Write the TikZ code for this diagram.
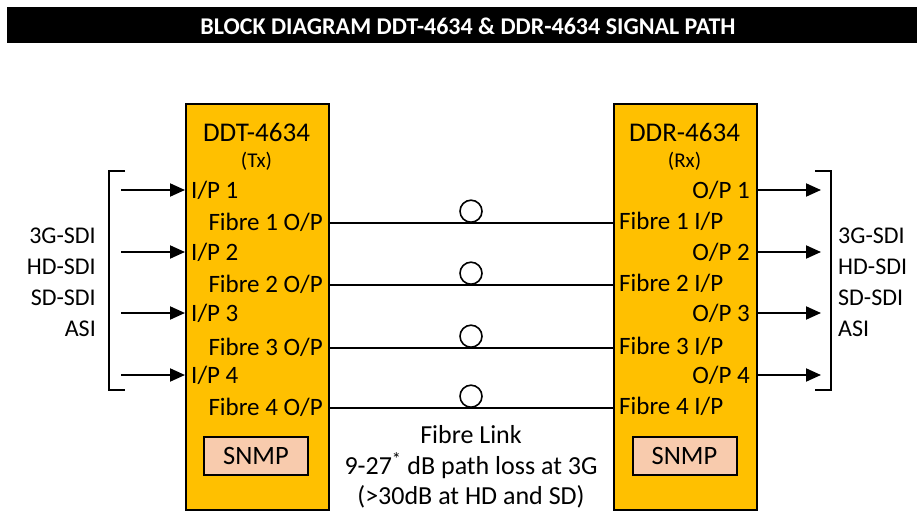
\documentclass[tikz,border=0pt]{standalone}
\usepackage{fontspec}
\setmainfont{Carlito}
\usepackage{tikz}
\usetikzlibrary{arrows.meta, positioning}
\definecolor{boxgold}{HTML}{FFC000}
\definecolor{snmppeach}{HTML}{F8CBAD}

\begin{document}
\begin{tikzpicture}[x=1pt, y=-1pt,
		>={Triangle[length=15pt,width=13pt]},   %Pfeilspitzen
		unit/.style={draw=black, line width=2pt, fill=boxgold, minimum width=143pt, minimum height=406pt, anchor=north west, inner sep=0pt},
		snmpbox/.style={draw=black, line width=2pt, fill=snmppeach, minimum width=104pt, minimum height=38pt, inner sep=0pt, font=\fontsize{26.5}{30}\selectfont},
		port/.style={inner sep=0pt, font=\fontsize{25}{28}\selectfont},
		sig/.style={inner sep=0pt, font=\fontsize{24}{27}\selectfont},
		loopc/.style={draw=black, line width=1.6pt, circle, minimum size=22pt, inner sep=0pt},
		fibre/.style={line width=2pt},
		font=\fontsize{27}{30}\selectfont]
		\useasboundingbox (0,0) rectangle (917,513);
		% Titelzeile
		\fill[black] (7,7) rectangle (917,43);
		\node[text=white, font=\fontsize{24}{26}\selectfont\bfseries] (title) at (468,26) {BLOCK DIAGRAM DDT-4634 \& DDR-4634 SIGNAL PATH};
		% Geraete
		\node[unit] (ddt) at (185,103) {};
		\node[unit] (ddr) at (613,103) {};
		\node (ddtname) at (256.5,132) {DDT-4634};
		\node[font=\fontsize{21}{24}\selectfont] (ddttx) at (256.5,161) {(Tx)};
		\node (ddrname) at (684.5,132) {DDR-4634};
		\node[font=\fontsize{21}{24}\selectfont] (ddrrx) at (684.5,161) {(Rx)};
		\node[snmpbox] (snmpt) at (256,456) {SNMP};
		\node[snmpbox] (snmpr) at (684.5,456) {SNMP};
		% Ports und Fasern
		\foreach \i/\yin/\yf in {1/190/223, 2/252/285, 3/313/348, 4/375/408} {
			\node[port, anchor=west] (ip\i) at (191,\yin) {I/P \i};
			\node[port, anchor=east] (fo\i) at (323,\yf-1) {Fibre \i\ O/P};
			\node[port, anchor=east] (op\i) at (750,\yin) {O/P \i};
			\node[port, anchor=west] (fi\i) at (619,\yf-2) {Fibre \i\ I/P};
			\coordinate (src\i) at (121,\yin);
			\coordinate (dst\i) at (821,\yin);
			\coordinate (mid\i) at (471,\yf);
			\draw[->, line width=2pt] (src\i) -- (src\i -| ddt.west);
			\draw[->, line width=2pt] (op\i -| ddr.east) -- (dst\i);
			\draw[fibre] (mid\i -| ddt.east) -- (mid\i -| ddr.west);
			\node[loopc, above=0pt of mid\i] (loop\i) {};
		}
		% Klammern
		\draw[line width=2pt] (125,171) -- (109,171) -- (109,390) -- (125,390);
		\draw[line width=2pt] (815,171) -- (831,171) -- (831,390) -- (815,390);
		% Signalarten
		\foreach \s/\y in {3G-SDI/236, HD-SDI/267, SD-SDI/298, ASI/329} {
			\node[sig, anchor=east] at (96,\y) {\s};
			\node[sig, anchor=west] at (838,\y) {\s};
		}
		% Faserstrecke
		\node[align=center, font=\fontsize{26}{30.5}\selectfont] (link) at (471,467) {Fibre Link\\9-27\textsuperscript{*} dB path loss at 3G\\(>30dB at HD and SD)};
	\end{tikzpicture}
\end{document}
